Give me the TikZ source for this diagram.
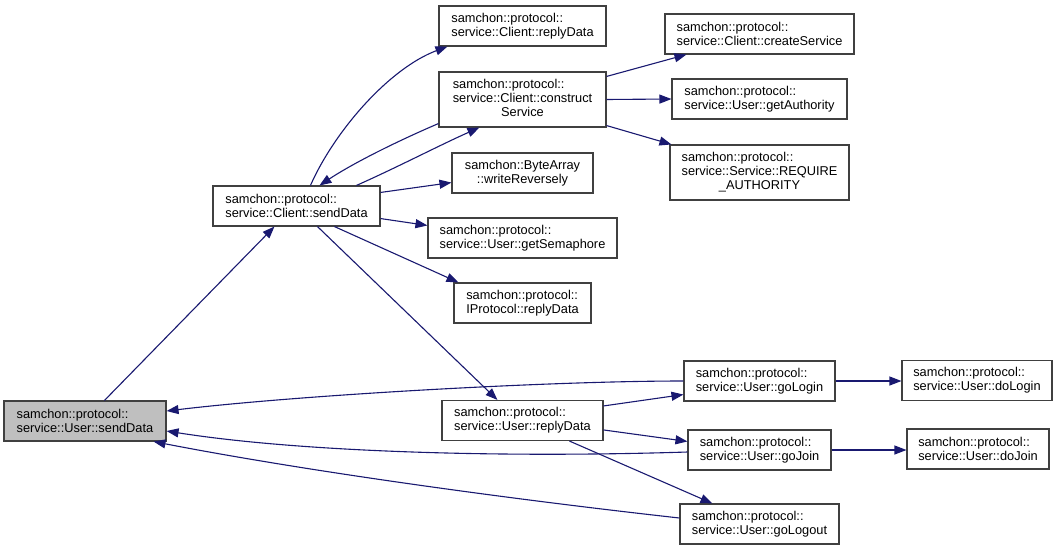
\documentclass[tikz,border=0pt]{standalone}
\usepackage{fontspec}
\setmainfont{Liberation Sans}
\usetikzlibrary{arrows.meta,calc}
\definecolor{edgeblue}{HTML}{191970}
\definecolor{boxline}{HTML}{404040}
\tikzset{
  fn/.style={draw=boxline, line width=1.1pt, fill=white, inner sep=0pt, align=left,
     font=\fontsize{12.8}{14}\selectfont},
  call/.style={draw=edgeblue, line width=1.1pt, -{Triangle[length=12pt,width=9pt]}},
}
\begin{document}
\begin{tikzpicture}[x=1pt,y=-1pt]
\useasboundingbox (0,0) rectangle (1059,551);
\node[fn, fill=black!25, minimum width=162, minimum height=40] (usd) at (85,421) {samchon::protocol::\\service::User::sendData};
\node[fn, minimum width=167, minimum height=40] (csd) at (296.5,206) {samchon::protocol::\\service::Client::sendData};
\node[fn, minimum width=167, minimum height=40] (crd) at (522.5,26) {samchon::protocol::\\service::Client::replyData};
\node[fn, minimum width=167, minimum height=55] (ccs) at (522.5,99.5) {\begin{tabular}{@{}l@{}}samchon::protocol::\\service::Client::construct\\\multicolumn{1}{@{}c@{}}{Service}\end{tabular}};
\node[fn, align=center, minimum width=141, minimum height=40] (bwr) at (522.5,173) {samchon::ByteArray\\::writeReversely};
\node[fn, minimum width=189, minimum height=40] (ugs) at (522.5,238) {samchon::protocol::\\service::User::getSemaphore};
\node[fn, minimum width=137, minimum height=40] (ipr) at (522.5,303) {samchon::protocol::\\IProtocol::replyData};
\node[fn, minimum width=189, minimum height=40] (ccr) at (759.5,34) {samchon::protocol::\\service::Client::createService};
\node[fn, minimum width=175, minimum height=40] (uga) at (759.5,99) {samchon::protocol::\\service::User::getAuthority};
\node[fn, minimum width=179, minimum height=55] (sra) at (759.5,172.5) {\begin{tabular}{@{}l@{}}samchon::protocol::\\service::Service::REQUIRE\\\multicolumn{1}{@{}c@{}}{\_AUTHORITY}\end{tabular}};
\node[fn, minimum width=161, minimum height=40] (urd) at (522.5,420.5) {samchon::protocol::\\service::User::replyData};
\node[fn, minimum width=151, minimum height=40] (ugl) at (759.5,381) {samchon::protocol::\\service::User::goLogin};
\node[fn, minimum width=143, minimum height=40] (ugj) at (759.5,450) {samchon::protocol::\\service::User::goJoin};
\node[fn, minimum width=159, minimum height=40] (ugo) at (759.5,524) {samchon::protocol::\\service::User::goLogout};
\node[fn, minimum width=150, minimum height=40] (udl) at (977,380.5) {samchon::protocol::\\service::User::doLogin};
\node[fn, minimum width=142, minimum height=40] (udj) at (978,449) {samchon::protocol::\\service::User::doJoin};

\draw[call] ($(usd.north west)+(101,0)$) -- ($(csd.south west)+(62,0)$);
\draw[call] ($(csd.north west)+(98,0)$) .. controls (335,130) and (390,68) .. ($(crd.south west)+(9,0)$);
\draw[call] ($(ccs.south west)+(0,-4)$) .. controls (400,140) and (355,162) .. ($(csd.north west)+(107,0)$);
\draw[call] ($(csd.north west)+(144,0)$) .. controls (400,166) and (440,145) .. ($(ccs.south west)+(41,0)$);
\draw[call] ($(csd.north east)+(0,7)$) -- ($(bwr.south west)+(0,-11)$);
\draw[call] ($(csd.south east)+(0,-8)$) -- ($(ugs.north west)+(0,8)$);
\draw[call] ($(csd.south west)+(122,0)$) -- ($(ipr.north west)+(5,0)$);
\draw[call] ($(csd.south west)+(105,0)$) -- ($(urd.north west)+(56,0)$);
\draw[call] ($(ccs.north east)+(0,5)$) -- ($(ccr.south west)+(22,0)$);
\draw[call] (ccs.east) -- (uga.west);
\draw[call] ($(ccs.south east)+(0,-2)$) -- ($(sra.north west)+(2,0)$);
\draw[call] ($(urd.north east)+(0,6)$) -- ($(ugl.south west)+(0,-7)$);
\draw[call] ($(urd.north east)+(0,30)$) -- ($(ugj.north west)+(0,12)$);
\draw[call] ($(urd.south west)+(128,0)$) -- ($(ugo.north west)+(33,0)$);
\draw[call] (ugl.west) .. controls (550,381) and (300,395) .. ($(usd.east)+(0,-10)$);
\draw[call] ($(ugj.west)+(0,2)$) .. controls (500,458) and (300,452) .. ($(usd.east)+(0,10)$);
\draw[call] ($(ugo.west)+(0,-6)$) .. controls (500,498) and (300,470) .. ($(usd.south east)+(-13,0)$);
\draw[call] (ugl.east) -- ($(udl.west)+(0,0.5)$);
\draw[call] (ugj.east) -- ($(udj.west)+(0,1)$);
\end{tikzpicture}
\end{document}
